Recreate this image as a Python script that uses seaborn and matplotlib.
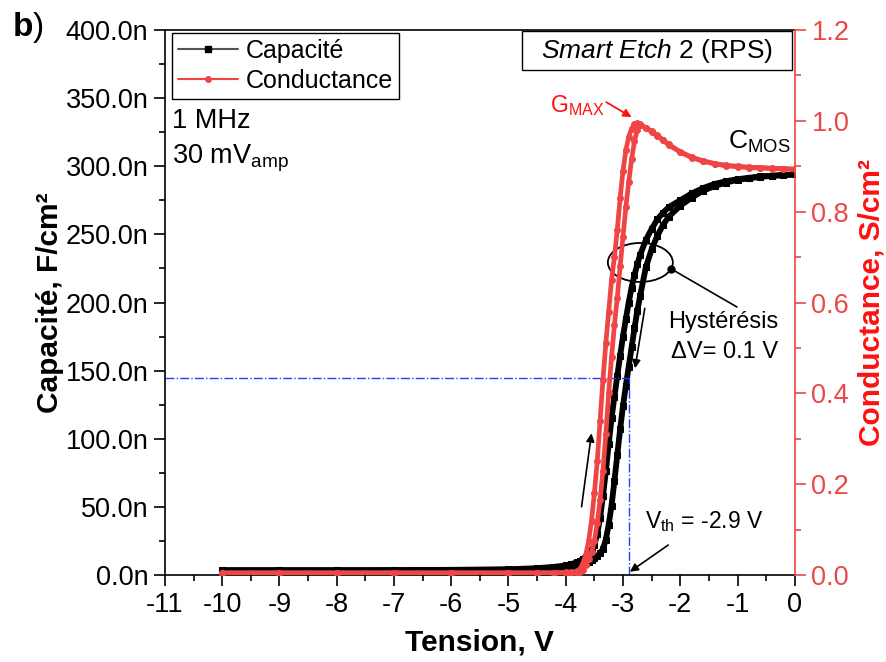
import matplotlib
matplotlib.use("Agg")
import matplotlib.pyplot as plt
import seaborn as sns
import pandas as pd
from matplotlib.lines import Line2D
from matplotlib.patches import Ellipse, Rectangle
from matplotlib.ticker import MultipleLocator, FuncFormatter

# Bias sweep (V) - same grid for both sweep directions
voltage = [-10, -9, -8, -7, -6, -5, -4.5, -4.2, -4.0, -3.9,
           -3.8, -3.75, -3.7, -3.65, -3.6, -3.55, -3.5, -3.45, -3.4, -3.35,
           -3.3, -3.25, -3.2, -3.15, -3.1, -3.05, -3.0, -2.95, -2.9, -2.85,
           -2.8, -2.75, -2.7, -2.6, -2.5, -2.4, -2.3, -2.2, -2.0, -1.8,
           -1.6, -1.4, -1.2, -1.0, -0.8, -0.6, -0.4, -0.2, 0.0]

# Capacitance (nF/cm2), forward and return sweeps
cap_forward = [3.5, 3.5, 3.5, 3.6, 3.8, 4.2, 5.0, 6.0, 7.0, 8.0,
               9.5, 10.5, 12, 13.5, 15, 18, 22, 30, 42, 58,
               76, 96, 115, 131, 146, 161, 175, 188, 200, 211,
               220, 228, 235, 246, 254, 261, 266, 270, 275, 280,
               284, 287, 289, 290.5, 291.5, 292.5, 293, 293.5, 294]
cap_return = [3.5, 3.5, 3.5, 3.5, 3.6, 3.9, 4.3, 4.7, 5.0, 5.5,
              6.5, 7.0, 7.5, 8.5, 9.5, 11, 12.5, 14, 16, 19,
              26, 37, 51, 69, 88, 107, 124, 139, 153, 167,
              181, 194, 205, 226, 239, 249, 257, 263, 271, 277,
              282, 285.5, 288, 290, 291.2, 292.2, 293, 293.5, 294]

# Conductance (S/cm2), forward and return sweeps
cond_forward = [0.005, 0.005, 0.005, 0.005, 0.005, 0.005, 0.005, 0.005, 0.006, 0.006,
                0.008, 0.013, 0.025, 0.045, 0.075, 0.12, 0.18, 0.25, 0.34, 0.43,
                0.51, 0.58, 0.65, 0.70, 0.76, 0.83, 0.89, 0.935, 0.965, 0.983,
                0.992, 0.995, 0.992, 0.985, 0.977, 0.968, 0.958, 0.948, 0.932, 0.920,
                0.912, 0.906, 0.902, 0.900, 0.898, 0.897, 0.896, 0.895, 0.894]
cond_return = [0.004, 0.004, 0.004, 0.004, 0.004, 0.004, 0.004, 0.004, 0.004, 0.004,
               0.005, 0.007, 0.012, 0.022, 0.035, 0.05, 0.075, 0.115, 0.165, 0.23,
               0.31, 0.40, 0.48, 0.55, 0.61, 0.68, 0.745, 0.81, 0.865, 0.915,
               0.955, 0.98, 0.99, 0.984, 0.976, 0.967, 0.957, 0.947, 0.931, 0.919,
               0.911, 0.905, 0.901, 0.899, 0.897, 0.896, 0.895, 0.894, 0.893]

# Threshold voltage and the capacitance at which it is read
v_th = -2.9
c_th = 144.5

BLACK = "#000000"
RED = "#ef4545"
RED_AXIS = "#e94848"
RED_LABEL = "#ff1010"
BLUE = "#2040ff"

sns.set_theme(style="ticks")
plt.rcParams["font.family"] = ["Liberation Sans", "DejaVu Sans"]
plt.rcParams["mathtext.fontset"] = "custom"
plt.rcParams["mathtext.rm"] = "Liberation Sans"
plt.rcParams["mathtext.it"] = "Liberation Sans:italic"
plt.rcParams["mathtext.bf"] = "Liberation Sans:bold"
plt.rcParams["axes.unicode_minus"] = False
plt.rcParams["text.color"] = BLACK
plt.rcParams["axes.labelcolor"] = BLACK
plt.rcParams["xtick.color"] = BLACK
plt.rcParams["ytick.color"] = BLACK

TICK_FS = 19.5
TEXT_FS = 18

fig, ax = plt.subplots(figsize=(8.87, 6.62), dpi=100)
fig.subplots_adjust(left=0.186, right=0.896, bottom=0.1314, top=0.9547)
ax2 = ax.twinx()

df_fwd = pd.DataFrame({"V": voltage, "C": cap_forward, "G": cond_forward})
df_ret = pd.DataFrame({"V": voltage, "C": cap_return, "G": cond_return})

for df in (df_fwd, df_ret):
    sns.lineplot(data=df, x="V", y="C", ax=ax, sort=False, estimator=None,
                 color=BLACK, lw=4.2, marker="s", markersize=4.5,
                 markeredgecolor=BLACK, markerfacecolor=BLACK)
for df in (df_fwd, df_ret):
    sns.lineplot(data=df, x="V", y="G", ax=ax2, sort=False, estimator=None,
                 color=RED, lw=3.4, marker="o", markersize=4.2,
                 markeredgecolor=RED, markerfacecolor=RED)

# Threshold construction lines
ax.plot([-11, v_th], [c_th, c_th], color=BLUE, lw=1.0, ls="-.")
ax.plot([v_th, v_th], [0, c_th], color=BLUE, lw=1.0, ls="-.")

# Axes ranges and ticks
ax.set_xlim(-11, 0)
ax.set_ylim(0, 400)
ax2.set_ylim(0, 1.2)
ax.xaxis.set_major_locator(MultipleLocator(1))
ax.xaxis.set_minor_locator(MultipleLocator(0.5))
ax.yaxis.set_major_locator(MultipleLocator(50))
ax.yaxis.set_minor_locator(MultipleLocator(25))
ax.yaxis.set_major_formatter(FuncFormatter(lambda v, _: f"{v:.1f}n"))
ax.xaxis.set_major_formatter(FuncFormatter(lambda v, _: f"{v:.0f}"))
ax2.yaxis.set_major_locator(MultipleLocator(0.2))
ax2.yaxis.set_minor_locator(MultipleLocator(0.1))
ax2.yaxis.set_major_formatter(FuncFormatter(lambda v, _: f"{v:.1f}"))

ax.tick_params(axis="both", which="major", direction="out", length=8, width=1.2,
               labelsize=TICK_FS, color=BLACK, labelcolor=BLACK, pad=4)
ax.tick_params(axis="both", which="minor", direction="out", length=4, width=1.2, color=BLACK)
ax.tick_params(axis="x", top=False, which="both")
ax2.tick_params(axis="y", which="major", direction="out", length=8, width=1.2,
                labelsize=TICK_FS, color=RED_AXIS, labelcolor=RED_AXIS, pad=4)
ax2.tick_params(axis="y", which="minor", direction="out", length=4, width=1.2, color=RED_AXIS)

for side in ("left", "bottom", "top"):
    ax.spines[side].set_color(BLACK)
    ax.spines[side].set_linewidth(1.2)
ax.spines["right"].set_visible(False)
ax2.spines["left"].set_visible(False)
ax2.spines["top"].set_visible(False)
ax2.spines["bottom"].set_visible(False)
ax2.spines["right"].set_color(RED_AXIS)
ax2.spines["right"].set_linewidth(1.2)

ax.set_xlabel("Tension, V", fontsize=21.5, fontweight="bold", labelpad=8)
ax.set_ylabel("Capacité, F/cm²", fontsize=21.5, fontweight="bold", labelpad=1)
ax2.set_ylabel("Conductance, S/cm²", fontsize=21.5, fontweight="bold",
               color=RED_LABEL, labelpad=6, rotation=90)

# Legend
handles = [
    Line2D([], [], color="#555555", lw=1.5, marker="s", markersize=5,
           markerfacecolor=BLACK, markeredgecolor=BLACK),
    Line2D([], [], color=RED, lw=1.5, marker="o", markersize=4,
           markerfacecolor=RED, markeredgecolor=RED),
]
leg = ax.legend(handles, ["Capacité", "Conductance"], loc="upper left",
                bbox_to_anchor=(0.011, 0.995), borderaxespad=0, fontsize=TEXT_FS,
                frameon=True, fancybox=False, framealpha=1, edgecolor=BLACK,
                borderpad=0.25, labelspacing=0.25, handlelength=2.4,
                handletextpad=0.3, numpoints=1)
leg.get_frame().set_linewidth(1.0)

# Measurement conditions
ax.text(-10.88, 328, "1 MHz", fontsize=19.5, ha="left", va="baseline")
ax.text(-10.88, 302, r"30 mV$_{\mathrm{amp}}$", fontsize=19.5, ha="left", va="baseline")

# Sample label box
ax.add_patch(Rectangle((0.567, 0.9266), 0.4286, 0.0716, transform=ax.transAxes,
                       fill=True, facecolor="white", edgecolor=BLACK, lw=1.0, zorder=5))
ax.text(0.781, 0.962, r"$\mathit{Smart\ Etch\ 2}$ (RPS)", transform=ax.transAxes,
        fontsize=19, ha="center", va="center", zorder=6)

# Peak conductance
ax.text(-3.33, 340, r"G$_{\mathrm{MAX}}$", fontsize=16.5, color=RED_LABEL,
        ha="right", va="baseline")
ax.annotate("", xy=(-2.85, 336), xytext=(-3.29, 347),
            arrowprops=dict(arrowstyle="-|>", color=RED_LABEL, lw=1.3,
                            mutation_scale=12, shrinkA=0, shrinkB=0))
ax.text(-1.17, 313, r"C$_{\mathrm{MOS}}$", fontsize=19, ha="left", va="baseline")

# Hysteresis marker
ax.add_patch(Ellipse((-2.697, 229.4), 1.135, 28.6, fill=False, edgecolor=BLACK, lw=1.3))
ax.plot([-2.156, -1.01], [224.6, 196.7], color=BLACK, lw=1.2)
ax.plot([-2.156], [224.6], marker="o", color=BLACK, markersize=5)
ax.text(-2.22, 181, "Hystérésis", fontsize=17, ha="left", va="baseline")
ax.text(-2.17, 159, "ΔV= 0.1 V", fontsize=17, ha="left", va="baseline")

# Sweep direction arrows
ax.annotate("", xy=(-2.79, 151.7), xytext=(-2.62, 195.7),
            arrowprops=dict(arrowstyle="-|>", color=BLACK, lw=1.2,
                            mutation_scale=12, shrinkA=0, shrinkB=0))
ax.annotate("", xy=(-3.55, 104), xytext=(-3.724, 50.1),
            arrowprops=dict(arrowstyle="-|>", color=BLACK, lw=1.2,
                            mutation_scale=12, shrinkA=0, shrinkB=0))

# Threshold label
ax.text(-2.62, 34.5, r"V$_{\mathrm{th}}$ = -2.9 V", fontsize=16.5, ha="left", va="baseline")
ax.annotate("", xy=(-2.88, 2.4), xytext=(-2.21, 22),
            arrowprops=dict(arrowstyle="-|>", color=BLACK, lw=1.2,
                            mutation_scale=12, shrinkA=0, shrinkB=0))

# Panel letter
fig.text(0.0135, 0.958, r"$\mathbf{b}$)", fontsize=24, ha="left", va="center")

fig.savefig("out.png", dpi=100)
